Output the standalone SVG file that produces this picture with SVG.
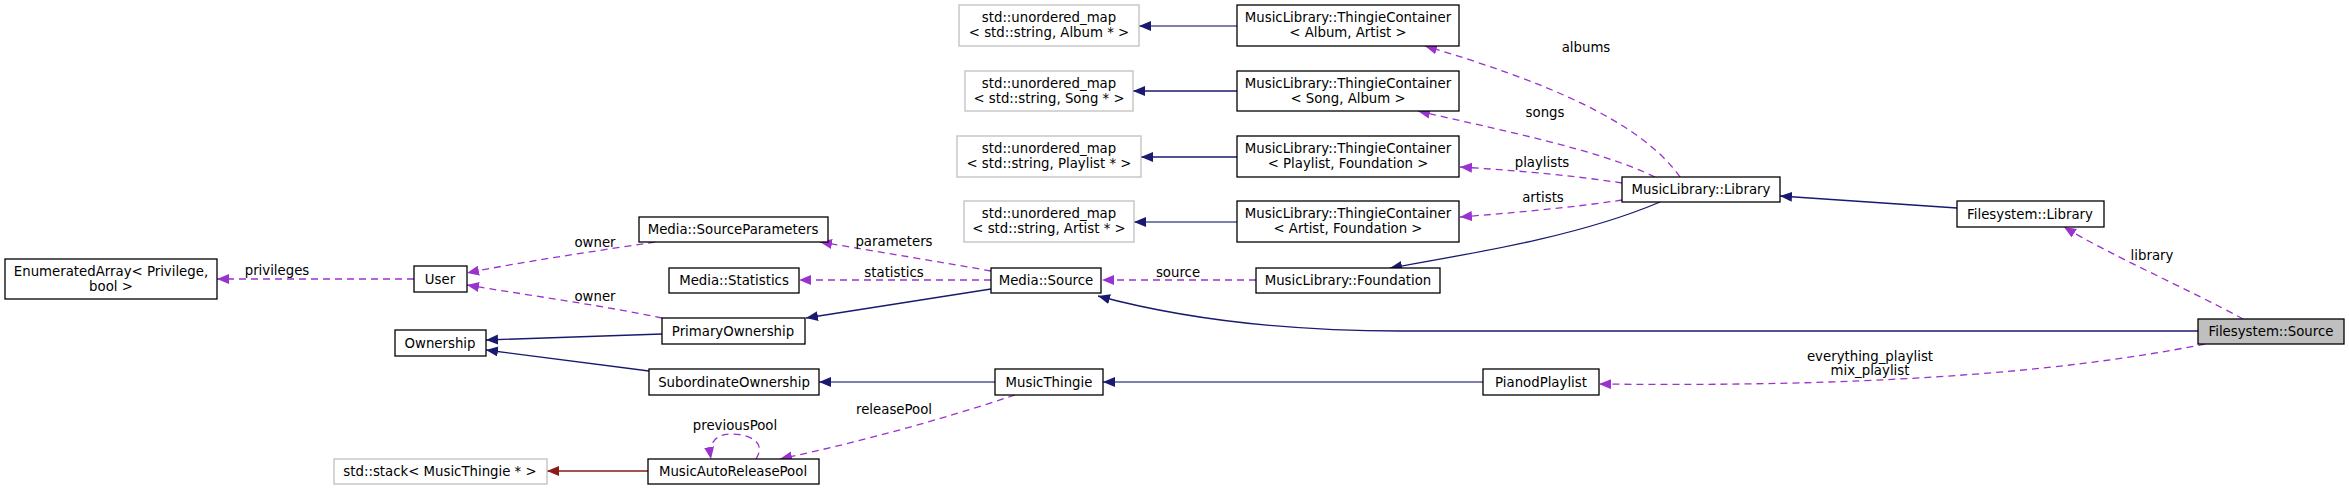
<svg xmlns="http://www.w3.org/2000/svg" width="2349" height="490" viewBox="0 0 2349 490">
<style>
text{font-family:"DejaVu Sans",sans-serif;font-size:13.3px;fill:#000;text-anchor:middle}
.n rect{fill:#fff;stroke:#000;stroke-width:1.3}
.g rect{fill:#fff;stroke:#bfbfbf;stroke-width:1.3}
.cur rect{fill:#bfbfbf;stroke:#000;stroke-width:1.3}
.inh{fill:none;stroke:#191970;stroke-width:1.3}
.tpl{fill:none;stroke:#191970;stroke-width:1.3;stroke-opacity:0.75}
.use{fill:none;stroke:#9a32cd;stroke-width:1.3;stroke-dasharray:7,5}
.red{fill:none;stroke:#8b1a1a;stroke-width:1.3}
</style>
<defs>
<marker id="ab" markerUnits="userSpaceOnUse" markerWidth="14" markerHeight="12" refX="12" refY="5" orient="auto"><path d="M0,0 L12,5 L0,10 Z" fill="#191970"/></marker>
<marker id="ap" markerUnits="userSpaceOnUse" markerWidth="14" markerHeight="12" refX="12" refY="5" orient="auto"><path d="M0,0 L12,5 L0,10 Z" fill="#9a32cd"/></marker>
<marker id="ar" markerUnits="userSpaceOnUse" markerWidth="14" markerHeight="12" refX="12" refY="5" orient="auto"><path d="M0,0 L12,5 L0,10 Z" fill="#8b1a1a"/></marker>
</defs>
<g id="connectors">
<path class="tpl" d="M1237,26 L1139,26" marker-end="url(#ab)"/>
<path class="inh" d="M1237,91 L1133,91" marker-end="url(#ab)"/>
<path class="inh" d="M1237,157 L1141,157" marker-end="url(#ab)"/>
<path class="tpl" d="M1237,222 L1134,222" marker-end="url(#ab)"/>
<path class="inh" d="M1660,202 C1580,236 1480,252 1390,268" marker-end="url(#ab)"/>
<path class="inh" d="M1957,208 L1780,196" marker-end="url(#ab)"/>
<path class="inh" d="M2198,331 L1400,331 C1280,331 1180,318 1098,296" marker-end="url(#ab)"/>
<path class="inh" d="M991,289 L806,318" marker-end="url(#ab)"/>
<path class="inh" d="M662,334 L486,340" marker-end="url(#ab)"/>
<path class="inh" d="M649,371 L486,350" marker-end="url(#ab)"/>
<path class="tpl" d="M995,382 L819,382" marker-end="url(#ab)"/>
<path class="tpl" d="M1483,382 L1103,382" marker-end="url(#ab)"/>
<path class="red" d="M648,471 L547,471" marker-end="url(#ar)"/>
<path class="use" d="M414,279 L217,279" marker-end="url(#ap)"/>
<path class="use" d="M655,242 C590,252 520,262 467,273" marker-end="url(#ap)"/>
<path class="use" d="M662,318 C600,305 520,294 467,285" marker-end="url(#ap)"/>
<path class="use" d="M991,271 C940,262 880,252 820,242" marker-end="url(#ap)"/>
<path class="use" d="M991,280 L799,280" marker-end="url(#ap)"/>
<path class="use" d="M1256,280 L1102,280" marker-end="url(#ap)"/>
<path class="use" d="M1680,177 C1640,120 1540,80 1425,46" marker-end="url(#ap)"/>
<path class="use" d="M1655,177 C1600,150 1500,130 1418,111" marker-end="url(#ap)"/>
<path class="use" d="M1622,183 C1570,175 1510,170 1460,167" marker-end="url(#ap)"/>
<path class="use" d="M1622,200 C1570,208 1510,213 1460,217" marker-end="url(#ap)"/>
<path class="use" d="M2243,319 C2190,290 2110,255 2064,227" marker-end="url(#ap)"/>
<path class="use" d="M2205,344 C2050,375 1850,387 1599,384" marker-end="url(#ap)"/>
<path class="use" d="M1015,395 C940,420 860,442 780,459" marker-end="url(#ap)"/>
<path class="use" d="M756,459 C768,440 745,434 732,434 C718,434 708,440 711,459" marker-end="url(#ap)"/>
</g>
<g id="edge-labels">
<text x="277" y="275">privileges</text>
<text x="595" y="247">owner</text>
<text x="595" y="301">owner</text>
<text x="894" y="246">parameters</text>
<text x="894" y="277">statistics</text>
<text x="1178" y="277">source</text>
<text x="1586" y="52">albums</text>
<text x="1545" y="117">songs</text>
<text x="1542" y="167">playlists</text>
<text x="1543" y="202">artists</text>
<text x="2152" y="260">library</text>
<text x="1870" y="361">everything_playlist</text>
<text x="1870" y="375">mix_playlist</text>
<text x="894" y="414">releasePool</text>
<text x="735" y="430">previousPool</text>
</g>
<g id="EnumeratedArray" class="n"><rect x="5" y="259" width="212" height="40"/><text x="111" y="276">EnumeratedArray&lt; Privilege,</text><text x="111" y="291">bool &gt;</text></g>
<g id="User" class="n"><rect x="414" y="266" width="53" height="26"/><text x="440" y="284">User</text></g>
<g id="Ownership" class="n"><rect x="395" y="330" width="91" height="26"/><text x="440" y="348">Ownership</text></g>
<g id="stack" class="g"><rect x="334" y="459" width="213" height="25"/><text x="440" y="476">std::stack&lt; MusicThingie * &gt;</text></g>
<g id="SourceParameters" class="n"><rect x="639" y="217" width="189" height="25"/><text x="733" y="234">Media::SourceParameters</text></g>
<g id="Statistics" class="n"><rect x="669" y="268" width="130" height="25"/><text x="734" y="285">Media::Statistics</text></g>
<g id="PrimaryOwnership" class="n"><rect x="662" y="318" width="143" height="26"/><text x="733" y="336">PrimaryOwnership</text></g>
<g id="SubordinateOwnership" class="n"><rect x="649" y="369" width="170" height="26"/><text x="734" y="387">SubordinateOwnership</text></g>
<g id="MusicAutoReleasePool" class="n"><rect x="648" y="459" width="171" height="25"/><text x="733" y="476">MusicAutoReleasePool</text></g>
<g id="MediaSource" class="n"><rect x="991" y="268" width="110" height="25"/><text x="1046" y="285">Media::Source</text></g>
<g id="MusicThingie" class="n"><rect x="995" y="369" width="108" height="26"/><text x="1049" y="387">MusicThingie</text></g>
<g id="Foundation" class="n"><rect x="1256" y="268" width="184" height="25"/><text x="1348" y="285">MusicLibrary::Foundation</text></g>
<g id="mapAlbum" class="g"><rect x="959" y="5" width="180" height="41"/><text x="1049" y="22">std::unordered_map</text><text x="1049" y="37">&lt; std::string, Album * &gt;</text></g>
<g id="mapSong" class="g"><rect x="965" y="71" width="168" height="40"/><text x="1049" y="88">std::unordered_map</text><text x="1049" y="103">&lt; std::string, Song * &gt;</text></g>
<g id="mapPlaylist" class="g"><rect x="957" y="136" width="184" height="41"/><text x="1049" y="153">std::unordered_map</text><text x="1049" y="168">&lt; std::string, Playlist * &gt;</text></g>
<g id="mapArtist" class="g"><rect x="964" y="201" width="170" height="41"/><text x="1049" y="218">std::unordered_map</text><text x="1049" y="233">&lt; std::string, Artist * &gt;</text></g>
<g id="tcAlbum" class="n"><rect x="1237" y="5" width="222" height="41"/><text x="1348" y="22">MusicLibrary::ThingieContainer</text><text x="1348" y="37">&lt; Album, Artist &gt;</text></g>
<g id="tcSong" class="n"><rect x="1237" y="71" width="222" height="40"/><text x="1348" y="88">MusicLibrary::ThingieContainer</text><text x="1348" y="103">&lt; Song, Album &gt;</text></g>
<g id="tcPlaylist" class="n"><rect x="1237" y="136" width="222" height="41"/><text x="1348" y="153">MusicLibrary::ThingieContainer</text><text x="1348" y="168">&lt; Playlist, Foundation &gt;</text></g>
<g id="tcArtist" class="n"><rect x="1237" y="201" width="222" height="41"/><text x="1348" y="218">MusicLibrary::ThingieContainer</text><text x="1348" y="233">&lt; Artist, Foundation &gt;</text></g>
<g id="MLLibrary" class="n"><rect x="1622" y="177" width="158" height="25"/><text x="1701" y="194">MusicLibrary::Library</text></g>
<g id="FSLibrary" class="n"><rect x="1957" y="201" width="147" height="26"/><text x="2030" y="219">Filesystem::Library</text></g>
<g id="FSSource" class="cur"><rect x="2198" y="319" width="146" height="25"/><text x="2271" y="336">Filesystem::Source</text></g>
<g id="PianodPlaylist" class="n"><rect x="1483" y="369" width="116" height="26"/><text x="1541" y="387">PianodPlaylist</text></g>
</svg>
